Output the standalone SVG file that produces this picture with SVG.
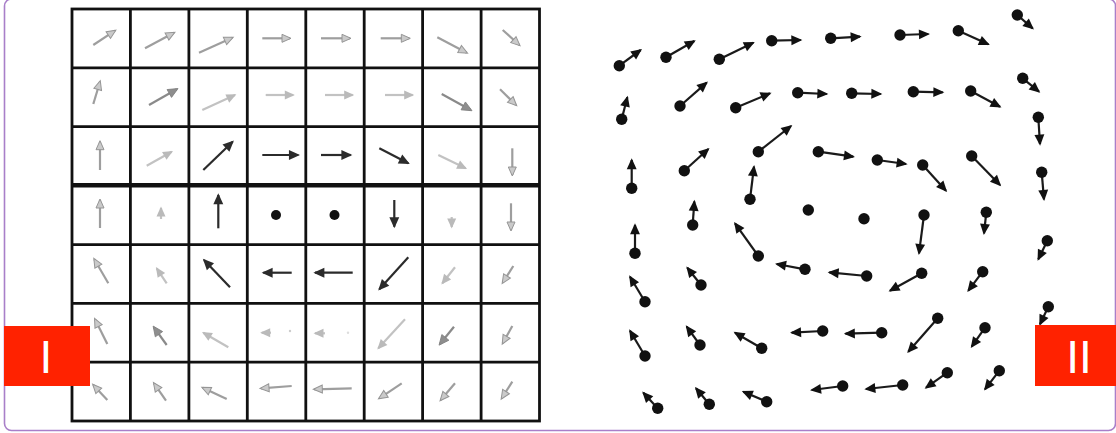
<svg xmlns="http://www.w3.org/2000/svg" width="1116" height="433" viewBox="0 0 1116 433">
<style>
.gl{stroke:#111;stroke-width:2.8;fill:none}
.a{stroke-width:2.2;fill:none}
.dk{stroke:#2b2b2b;marker-end:url(#hd)}
.md{stroke:#8a8a8a;marker-end:url(#hm)}
.lt{stroke:#9e9e9e;marker-end:url(#hl)}
.ft{stroke:#c2c2c2;marker-end:url(#hf)}
.v{stroke:#1a1a1a;stroke-width:2.2;fill:none;marker-end:url(#hb)}
.dot{fill:#111}
.lbl{fill:#ff2200}
.lt-t{font-family:"Liberation Sans",Arial,sans-serif;font-size:46px;fill:#fff;text-anchor:middle}
</style>
<defs>
<marker id="hd" markerUnits="userSpaceOnUse" viewBox="0 0 10 9" refX="8.5" refY="4.5" markerWidth="11" markerHeight="10" orient="auto" overflow="visible"><path d="M0,0 L10,4.5 L0,9 z" fill="#2b2b2b"/></marker>
<marker id="hm" markerUnits="userSpaceOnUse" viewBox="0 0 10 9" refX="8.5" refY="4.5" markerWidth="10" markerHeight="9" orient="auto" overflow="visible"><path d="M0,0 L10,4.5 L0,9 z" fill="#8e8e8e" stroke="#808080" stroke-width="0.8"/></marker>
<marker id="hl" markerUnits="userSpaceOnUse" viewBox="0 0 10 9" refX="8.5" refY="4.5" markerWidth="10" markerHeight="9" orient="auto" overflow="visible"><path d="M0.5,0.5 L9.5,4.5 L0.5,8.5 z" fill="#cacaca" stroke="#959595" stroke-width="1"/></marker>
<marker id="hf" markerUnits="userSpaceOnUse" viewBox="0 0 10 9" refX="8.5" refY="4.5" markerWidth="10" markerHeight="9" orient="auto" overflow="visible"><path d="M0,0 L10,4.5 L0,9 z" fill="#bababa"/></marker>
<marker id="hb" markerUnits="userSpaceOnUse" viewBox="0 0 10 9" refX="8.5" refY="4.5" markerWidth="11" markerHeight="10" orient="auto" overflow="visible"><path d="M0,0 L10,4.5 L0,9 z" fill="#111"/></marker>
</defs>
<rect width="1116" height="433" fill="#fff"/>
<rect id="frame" x="4.5" y="-1" width="1111" height="431.5" rx="7" fill="none" stroke="#a97fc9" stroke-width="1.6"/>

<g id="grid">
<rect class="gl" x="72" y="9" width="467.5" height="412"/>
<path class="gl" d="M130.4,9V421M188.9,9V421M247.3,9V421M305.8,9V421M364.2,9V421M422.6,9V421M481.1,9V421"/>
<path class="gl" d="M72,67.9H539.5M72,126.7H539.5M72,244.6H539.5M72,303.4H539.5M72,362.2H539.5"/>
<path d="M72,185.3H539.5" stroke="#111" stroke-width="4.5"/>
</g>

<g id="grid-arrows" class="a">
<line class="lt" x1="93.3" y1="45" x2="115" y2="30.7"/>
<line class="lt" x1="145" y1="48.3" x2="174" y2="32.7"/>
<line class="lt" x1="199" y1="52.7" x2="232.3" y2="37.7"/>
<line class="lt" x1="262.3" y1="38.3" x2="290" y2="38.3"/>
<line class="lt" x1="321" y1="38.3" x2="350" y2="38.3"/>
<line class="lt" x1="380.7" y1="38.3" x2="409.3" y2="38.3"/>
<line class="lt" x1="437.3" y1="37.3" x2="466.7" y2="52.7"/>
<line class="lt" x1="502.7" y1="30" x2="519.3" y2="45"/>

<line class="lt" x1="93.3" y1="104" x2="100" y2="81.7"/>
<line class="md" x1="149" y1="105" x2="176.7" y2="89.3"/>
<line class="ft" x1="202.3" y1="110" x2="235" y2="95"/>
<line class="ft" x1="265.7" y1="95" x2="293.3" y2="95"/>
<line class="ft" x1="325" y1="95" x2="352.7" y2="95"/>
<line class="ft" x1="385" y1="95" x2="412.7" y2="95"/>
<line class="md" x1="441.7" y1="94" x2="470.7" y2="110"/>
<line class="lt" x1="500" y1="89.3" x2="516" y2="105"/>

<line class="lt" x1="100" y1="170" x2="100" y2="141.7"/>
<line class="ft" x1="146.7" y1="165.7" x2="171.7" y2="151.7"/>
<line class="dk" x1="203.3" y1="170" x2="232.7" y2="141.7"/>
<line class="dk" x1="262.3" y1="155" x2="298.3" y2="155"/>
<line class="dk" x1="321" y1="155" x2="350.7" y2="155"/>
<line class="dk" x1="379.3" y1="148.3" x2="408.3" y2="163.3"/>
<line class="ft" x1="438.3" y1="155" x2="465.7" y2="168.3"/>
<line class="lt" x1="512.3" y1="148.3" x2="512.3" y2="175"/>

<line class="lt" x1="100" y1="228" x2="100" y2="200"/>
<line class="ft" x1="161" y1="219" x2="161" y2="208"/>
<line class="dk" x1="218.3" y1="228.3" x2="218.3" y2="195"/>
<circle cx="276" cy="215" r="5" fill="#111"/>
<circle cx="334.5" cy="215" r="5" fill="#111"/>
<line class="dk" x1="394.3" y1="200" x2="394.3" y2="226.7"/>
<line class="ft" x1="451.7" y1="217" x2="451.7" y2="227"/>
<line class="lt" x1="511" y1="203.3" x2="511" y2="230"/>

<line class="lt" x1="108.3" y1="283.3" x2="94.3" y2="259.3"/>
<line class="ft" x1="166.7" y1="283.3" x2="156.7" y2="268.3"/>
<line class="dk" x1="230" y1="287.3" x2="204" y2="260"/>
<line class="dk" x1="291.7" y1="272.7" x2="263.3" y2="272.7"/>
<line class="dk" x1="352.7" y1="272.7" x2="315" y2="272.7"/>
<line class="dk" x1="408.3" y1="257.3" x2="379.3" y2="289.3"/>
<line class="ft" x1="455" y1="267.3" x2="442.3" y2="283.3"/>
<line class="lt" x1="513.3" y1="266" x2="502.7" y2="282.7"/>

<line class="lt" x1="107.3" y1="344" x2="95" y2="319.3"/>
<line class="md" x1="166.7" y1="345" x2="154" y2="327.3"/>
<line class="ft" x1="228.3" y1="347.3" x2="203.3" y2="332.7"/>
<line class="ft" x1="271" y1="332.7" x2="261.7" y2="332.7"/>
<circle cx="290" cy="331" r="1.2" fill="#ccc"/>
<line class="ft" x1="325" y1="333.3" x2="315" y2="333.3"/>
<circle cx="348" cy="332.7" r="1.2" fill="#ddd"/>
<line class="ft" x1="405" y1="319.3" x2="378.3" y2="348.3"/>
<line class="md" x1="454" y1="326.7" x2="440" y2="344"/>
<line class="lt" x1="512.3" y1="326" x2="502.7" y2="343.3"/>

<line class="lt" x1="107.3" y1="400" x2="93.3" y2="385"/>
<line class="lt" x1="166" y1="400.7" x2="154" y2="383.3"/>
<line class="lt" x1="226.7" y1="399" x2="202.7" y2="387.7"/>
<line class="lt" x1="291.7" y1="386" x2="261" y2="388.3"/>
<line class="lt" x1="351.7" y1="388.3" x2="314.3" y2="389.3"/>
<line class="lt" x1="401.7" y1="383.3" x2="379.3" y2="398.3"/>
<line class="lt" x1="455" y1="383.3" x2="440.7" y2="400"/>
<line class="lt" x1="512.3" y1="381.7" x2="501.7" y2="398.3"/>
</g>

<g id="label-I">
<rect class="lbl" x="4" y="326" width="86" height="60"/>
<text class="lt-t" x="46" y="373">I</text>
</g>

<g id="field-arrows">
<line class="v" x1="619.3" y1="65.7" x2="640.7" y2="50"/>
<line class="v" x1="666" y1="57.3" x2="694.3" y2="41"/>
<line class="v" x1="719.3" y1="59.3" x2="753.3" y2="42.7"/>
<line class="v" x1="771.7" y1="40.7" x2="800.7" y2="40"/>
<line class="v" x1="830.7" y1="38.3" x2="860" y2="36.7"/>
<line class="v" x1="900" y1="35" x2="928.3" y2="34"/>
<line class="v" x1="958.3" y1="30.7" x2="988.3" y2="44.3"/>
<line class="v" x1="1017.3" y1="15" x2="1032.7" y2="28.3"/>
<line class="v" x1="621.7" y1="119.3" x2="627.3" y2="97.3"/>
<line class="v" x1="680" y1="106" x2="706.7" y2="82.7"/>
<line class="v" x1="735.7" y1="107.7" x2="770" y2="93.3"/>
<line class="v" x1="797.7" y1="92.7" x2="826.7" y2="94"/>
<line class="v" x1="851.7" y1="93.3" x2="880.7" y2="94"/>
<line class="v" x1="913.3" y1="91.7" x2="942.7" y2="92.3"/>
<line class="v" x1="970.7" y1="91" x2="1000" y2="106.7"/>
<line class="v" x1="1022.7" y1="78.3" x2="1039" y2="91.7"/>
<line class="v" x1="1038.3" y1="117.3" x2="1040" y2="144"/>
<line class="v" x1="1041.7" y1="172.3" x2="1044" y2="199.3"/>
<line class="v" x1="631.7" y1="188.3" x2="631.7" y2="160"/>
<line class="v" x1="684.3" y1="170.7" x2="708.3" y2="149"/>
<line class="v" x1="758.3" y1="151.7" x2="791" y2="126"/>
<line class="v" x1="818.3" y1="151.7" x2="853.3" y2="156.7"/>
<line class="v" x1="877.3" y1="160" x2="906" y2="164"/>
<line class="v" x1="922.7" y1="165" x2="946" y2="190.7"/>
<line class="v" x1="971.7" y1="156" x2="1000" y2="185"/>
<line class="v" x1="692.7" y1="225" x2="694.3" y2="201.5"/>
<line class="v" x1="750" y1="199.3" x2="754" y2="166.7"/>
<line class="v" x1="924" y1="215" x2="919" y2="253.3"/>
<line class="v" x1="986.3" y1="212.3" x2="984" y2="233.3"/>
<line class="v" x1="635" y1="253.3" x2="635" y2="225"/>
<line class="v" x1="758.3" y1="256" x2="735" y2="223.3"/>
<line class="v" x1="805" y1="269.3" x2="776.7" y2="264"/>
<line class="v" x1="866.7" y1="276" x2="829.3" y2="272.3"/>
<line class="v" x1="921.7" y1="273.3" x2="890" y2="290.7"/>
<line class="v" x1="982.7" y1="271.7" x2="968.3" y2="290.7"/>
<line class="v" x1="1047.3" y1="240.7" x2="1038.3" y2="259.3"/>
<line class="v" x1="645" y1="301.7" x2="630" y2="276.7"/>
<line class="v" x1="701" y1="285" x2="687.3" y2="267.7"/>
<line class="v" x1="1048.3" y1="306.7" x2="1040" y2="324.3"/>
<line class="v" x1="645" y1="356" x2="630" y2="330.7"/>
<line class="v" x1="700" y1="345" x2="686.7" y2="326.7"/>
<line class="v" x1="761.7" y1="348.3" x2="735" y2="332.7"/>
<line class="v" x1="822.7" y1="331" x2="791.7" y2="332.7"/>
<line class="v" x1="881.7" y1="332.7" x2="845.5" y2="333.7"/>
<line class="v" x1="937.7" y1="318.3" x2="908.3" y2="351.7"/>
<line class="v" x1="985" y1="327.7" x2="971.7" y2="346.7"/>
<line class="v" x1="657.7" y1="408.3" x2="643.3" y2="392.7"/>
<line class="v" x1="709.3" y1="404.3" x2="696" y2="388.3"/>
<line class="v" x1="766.7" y1="401.7" x2="743.3" y2="391.7"/>
<line class="v" x1="842.7" y1="386" x2="811.7" y2="390"/>
<line class="v" x1="902.7" y1="385" x2="866" y2="389"/>
<line class="v" x1="947.3" y1="372.7" x2="926" y2="387.7"/>
<line class="v" x1="999.3" y1="370.7" x2="985" y2="389.3"/>
</g>

<g id="field-dots" class="dot">
<circle cx="619.3" cy="65.7" r="5.7"/><circle cx="666" cy="57.3" r="5.7"/><circle cx="719.3" cy="59.3" r="5.7"/><circle cx="771.7" cy="40.7" r="5.7"/><circle cx="830.7" cy="38.3" r="5.7"/><circle cx="900" cy="35" r="5.7"/><circle cx="958.3" cy="30.7" r="5.7"/><circle cx="1017.3" cy="15" r="5.7"/>
<circle cx="621.7" cy="119.3" r="5.7"/><circle cx="680" cy="106" r="5.7"/><circle cx="735.7" cy="107.7" r="5.7"/><circle cx="797.7" cy="92.7" r="5.7"/><circle cx="851.7" cy="93.3" r="5.7"/><circle cx="913.3" cy="91.7" r="5.7"/><circle cx="970.7" cy="91" r="5.7"/><circle cx="1022.7" cy="78.3" r="5.7"/><circle cx="1038.3" cy="117.3" r="5.7"/><circle cx="1041.7" cy="172.3" r="5.7"/>
<circle cx="631.7" cy="188.3" r="5.7"/><circle cx="684.3" cy="170.7" r="5.7"/><circle cx="758.3" cy="151.7" r="5.7"/><circle cx="818.3" cy="151.7" r="5.7"/><circle cx="877.3" cy="160" r="5.7"/><circle cx="922.7" cy="165" r="5.7"/><circle cx="971.7" cy="156" r="5.7"/>
<circle cx="692.7" cy="225" r="5.7"/><circle cx="750" cy="199.3" r="5.7"/><circle cx="808.3" cy="210" r="5.7"/><circle cx="864" cy="218.8" r="5.7"/><circle cx="924" cy="215" r="5.7"/><circle cx="986.3" cy="212.3" r="5.7"/>
<circle cx="635" cy="253.3" r="5.7"/><circle cx="758.3" cy="256" r="5.7"/><circle cx="805" cy="269.3" r="5.7"/><circle cx="866.7" cy="276" r="5.7"/><circle cx="921.7" cy="273.3" r="5.7"/><circle cx="982.7" cy="271.7" r="5.7"/><circle cx="1047.3" cy="240.7" r="5.7"/>
<circle cx="645" cy="301.7" r="5.7"/><circle cx="701" cy="285" r="5.7"/><circle cx="1048.3" cy="306.7" r="5.7"/>
<circle cx="645" cy="356" r="5.7"/><circle cx="700" cy="345" r="5.7"/><circle cx="761.7" cy="348.3" r="5.7"/><circle cx="822.7" cy="331" r="5.7"/><circle cx="881.7" cy="332.7" r="5.7"/><circle cx="937.7" cy="318.3" r="5.7"/><circle cx="985" cy="327.7" r="5.7"/>
<circle cx="657.7" cy="408.3" r="5.7"/><circle cx="709.3" cy="404.3" r="5.7"/><circle cx="766.7" cy="401.7" r="5.7"/><circle cx="842.7" cy="386" r="5.7"/><circle cx="902.7" cy="385" r="5.7"/><circle cx="947.3" cy="372.7" r="5.7"/><circle cx="999.3" cy="370.7" r="5.7"/>
</g>

<g id="label-II">
<rect class="lbl" x="1035" y="325" width="81" height="61"/>
<text class="lt-t" x="1079" y="373">II</text>
</g>
</svg>
